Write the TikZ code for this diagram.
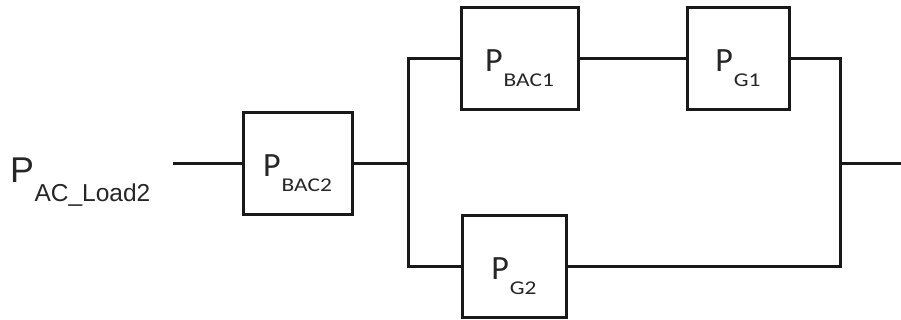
\documentclass[tikz,border=0pt]{standalone}
\usepackage{fontspec}
\usepackage{graphicx}
\setmainfont{Carlito}
\newfontfamily\labelfont{Liberation Sans}
\usetikzlibrary{calc}

% power symbol P with a lowered, widened subscript
\newcommand\PowerSym[1]{{\fontsize{34}{34}\selectfont P}\hspace{1pt}\raisebox{-15pt}{\fontsize{19.5}{20}\selectfont\scalebox{1.2}[1]{#1}}}

\tikzset{
  wire/.style={line width=3pt, draw=black!90},
  blockbox/.style={draw=black!90, line width=3pt, fill=white, inner sep=0pt, minimum width=#1, minimum height=102pt},
  blocktext/.style={anchor=base, inner sep=0pt, text=black!85},
}

\begin{document}
\begin{tikzpicture}[x=1pt, y=-1pt]
  \useasboundingbox (0,0) rectangle (901,320);

  % input label
  \node[anchor=base west, inner sep=0pt, text=black!85] (lbl) at (10,182.3)
    {\labelfont\fontsize{35.8}{36}\selectfont P\hspace{0.5pt}\raisebox{-19.5pt}{\fontsize{24.5}{25}\selectfont AC\_Load2}};

  % blocks
  \node[blockbox=109pt] (bac2) at (297.5,163.5) {};
  \node[blockbox=117pt] (bac1) at (519.5,59) {};
  \node[blockbox=102pt] (g1)   at (738,59) {};
  \node[blockbox=104pt] (g2)   at (514,266.5) {};

  \node[blocktext] (tbac2) at ([yshift=-13pt]bac2.center) {\PowerSym{BAC2}};
  \node[blocktext] (tbac1) at ([yshift=-13pt]bac1.center) {\PowerSym{BAC1}};
  \node[blocktext] (tg1)   at ([yshift=-13pt]g1.center)   {\PowerSym{G1}};
  \node[blocktext] (tg2)   at ([yshift=-13pt]g2.center)   {\PowerSym{G2}};

  % junction points
  \coordinate (in)  at (173,163.5);
  \coordinate (jl)  at (408,163.5);
  \coordinate (jr)  at (840,163.5);
  \coordinate (out) at (901,163.5);

  % connectors
  \draw[wire] (in) -- (bac2.west);
  \draw[wire, line width=3.6pt] (bac2.east) -- (jl);
  \draw[wire] (bac1.west) -| (jl) |- (g2.west);
  \draw[wire] (bac1.east) -- (g1.west);
  \draw[wire] (g1.east) -| (jr) |- (g2.east);
  \draw[wire] (jr) -- (out);
\end{tikzpicture}
\end{document}
